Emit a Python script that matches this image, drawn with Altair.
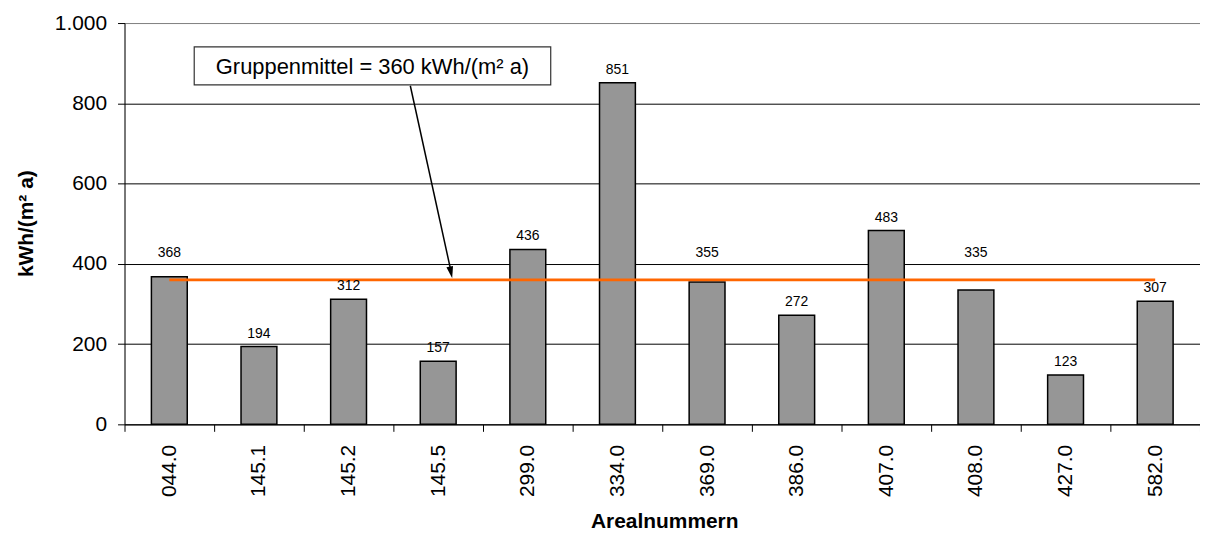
import altair as alt
import pandas as pd

# ---- data ----
areas = ["044.0", "145.1", "145.2", "145.5", "299.0", "334.0",
         "369.0", "386.0", "407.0", "408.0", "427.0", "582.0"]
values = [368, 194, 312, 157, 436, 851, 355, 272, 483, 335, 123, 307]
group_mean = 360
y_ticks = [0, 200, 400, 600, 800, 1000]
note_text = "Gruppenmittel = 360 kWh/(m² a)"
x_title = "Arealnummern"
y_title = "kWh/(m² a)"

FONT = "Liberation Sans"
W, H = 1080, 403

bars_df = pd.DataFrame({"area": areas, "value": values})
mean_df = pd.DataFrame({"area": [areas[0], areas[-1]], "value": [group_mean, group_mean]})
one = pd.DataFrame({"k": [0]})

x_enc = alt.X(
    "area:N", sort=areas,
    scale=alt.Scale(paddingInner=0, paddingOuter=0),
    axis=alt.Axis(
        title=x_title, labelAngle=-90, labelFont=FONT, labelFontSize=21,
        labelColor="black", labelPadding=13, tickSize=7, tickColor="black",
        tickBand="extent", domainColor="black", domainWidth=1,
        titleFont=FONT, titleFontSize=21, titleFontWeight="bold", titleColor="black",
        titleX=542, titleY=98, titleBaseline="middle", titleAlign="center",
    ),
)
y_enc = alt.Y(
    "value:Q",
    scale=alt.Scale(domain=[0, 1000], nice=False),
    axis=alt.Axis(
        values=y_ticks, labelExpr="replace(format(datum.value, ','), ',', '.')",
        labelFont=FONT, labelFontSize=21, labelColor="black", labelPadding=11,
        tickSize=7, tickColor="black", domainColor="black", domainWidth=1,
        grid=True,
        gridColor=alt.condition("datum.value == 1000", alt.value("#808080"), alt.value("#000000")),
        gridWidth=1,
        title=y_title, titleFont=FONT, titleFontSize=21, titleFontWeight="bold",
        titleColor="black", titleAngle=-90, titleX=-98, titleY=201,
        titleBaseline="middle", titleAlign="center",
    ),
)

bars = alt.Chart(bars_df).mark_bar(
    width=alt.RelativeBandSize(0.4), color="#969696", stroke="black", strokeWidth=1.5
).encode(x=x_enc, y=y_enc)

labels = alt.Chart(bars_df).transform_calculate(
    ly=f"abs(datum.value - {group_mean}) < 30 ? {group_mean} + 35 : datum.value"
).mark_text(
    font=FONT, fontSize=14, color="black", baseline="middle", dy=-13
).encode(
    x=alt.X("area:N", sort=areas),
    y=alt.Y("ly:Q"),
    text=alt.Text("value:Q"),
)

mean_line = alt.Chart(mean_df).mark_line(color="#FF6600", strokeWidth=3).encode(
    x=alt.X("area:N", sort=areas), y=alt.Y("value:Q")
)

box = alt.Chart(one).mark_rect(fill="white", stroke="#333333", strokeWidth=1.2).encode(
    x=alt.value(70), x2=alt.value(428), y=alt.value(24), y2=alt.value(62)
)
box_text = alt.Chart(one).mark_text(
    text=note_text, font=FONT, fontSize=22, color="black", align="center", baseline="middle"
).encode(x=alt.value(249), y=alt.value(44))

arrow = alt.Chart(one).mark_rule(color="black", strokeWidth=1.5).encode(
    x=alt.value(287), y=alt.value(63), x2=alt.value(328), y2=alt.value(250)
)
arrow_head = alt.Chart(one).mark_point(
    shape="M0,1 L-0.45,-0.6 L0.45,-0.6 Z", size=225, filled=True, color="black",
    angle=348, opacity=1
).encode(x=alt.value(327.5), y=alt.value(249))

chart = alt.layer(
    bars, mean_line, labels, box, box_text, arrow, arrow_head
).properties(
    width=W, height=H,
    autosize=alt.AutoSizeParams(type="none"),
    padding={"left": 117, "top": 14, "right": 0, "bottom": 108},
).configure_view(strokeWidth=0).configure(background="white")

chart.save("out.html", embed_options={"renderer": "svg", "actions": False})
